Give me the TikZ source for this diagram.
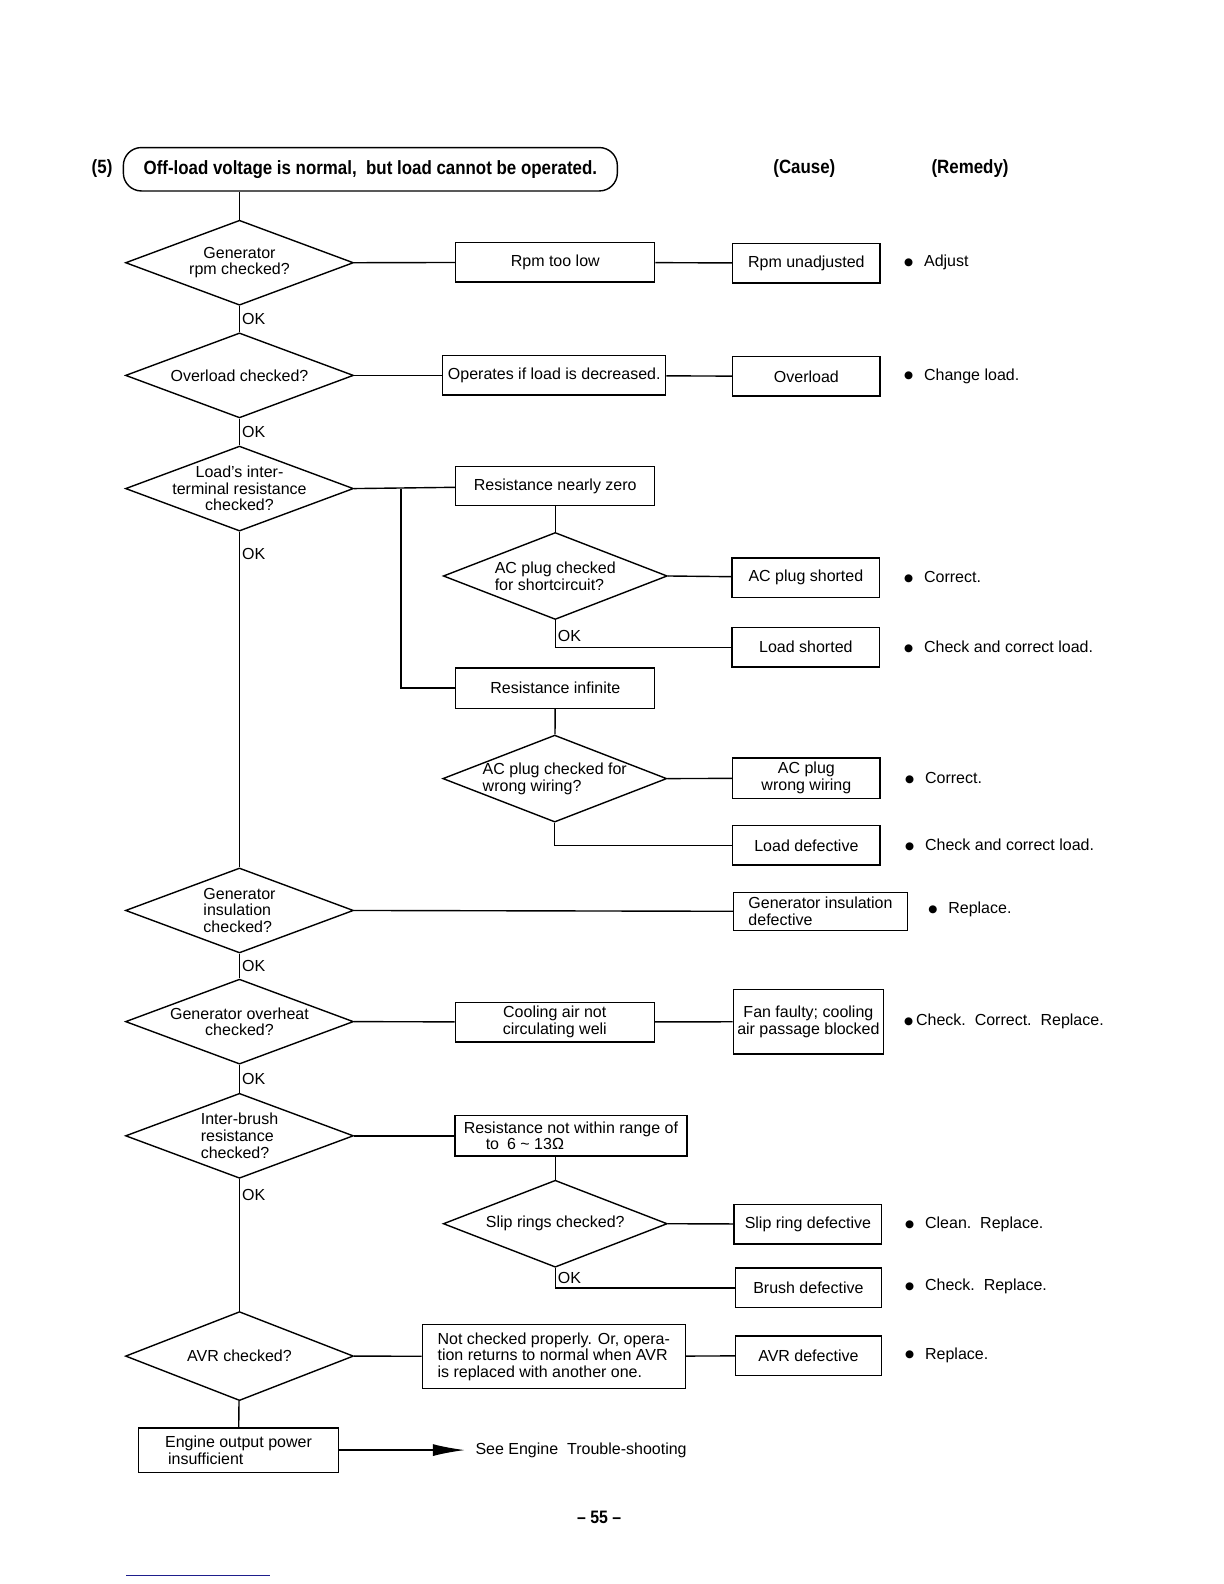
\documentclass[tikz,border=0pt]{standalone}
\usepackage{fontspec}
\setmainfont{Liberation Sans}
\newfontfamily\headfont{Liberation Sans}[FakeStretch=0.88]
\newfontfamily\symfont{DejaVu Sans}
\usetikzlibrary{shapes.geometric,arrows.meta,positioning}
\definecolor{scanblue}{RGB}{30,30,140}
\newcommand{\dotmark}{\raisebox{0.7pt}{\symfont\fontsize{5.2}{5.2}\selectfont ●}}
\newcommand{\rem}[1]{\makebox[10pt][l]{\dotmark}#1}

\begin{document}
\begin{tikzpicture}[x=0.50525pt, y=-0.50525pt, line width=0.7pt,
    every node/.style={font=\fontsize{8}{8.3}\selectfont},
    check/.style={diamond, draw, minimum width=114pt, minimum height=42.5pt, inner sep=0pt},
    subcheck/.style={check, minimum width=112pt, minimum height=43.5pt},
    qtext/.style={align=center, inner sep=0pt},
    qleft/.style={align=left, inner sep=0pt},
    test/.style={draw, rectangle, align=center, inner sep=2pt, minimum width=99.5pt, minimum height=19.7pt},
    cause/.style={draw, rectangle, align=center, inner sep=2pt, minimum width=73.8pt, minimum height=19.7pt},
    remedy/.style={anchor=west, inner sep=0pt},
    head/.style={font=\headfont\bfseries\fontsize{9.6}{11}\selectfont}]

  \useasboundingbox (0pt,0pt) rectangle (612pt,-792pt);

  % heading
  \node[head]                         (num)     at (101,167)   {(5)};
  \node[head, draw, rounded corners=9pt, minimum width=247pt, minimum height=21.7pt]
                                      (title)   at (366.5,167.5) {Off-load voltage is normal,\ \ but load cannot be operated.};
  \node[head]                         (hcause)  at (796,167)   {(Cause)};
  \node[head]                         (hremedy) at (960,167)   {(Remedy)};

  % checks along the main line
  \node[check, label={[qtext]center:{Generator\\rpm checked?}}]                   (genrpm)   at (237,260)    {};
  \node[check, label={[qtext]center:{Overload checked?}}]                         (overld)   at (237,371.5)  {};
  \node[check, label={[qtext]center:{Load's inter-\\terminal resistance\\checked?}}] (loadres) at (237,483.5) {};
  \node[check, label={[qleft]center:{Generator\\insulation\\checked?}}]           (insul)    at (237,901)    {};
  \node[check, label={[qtext]center:{Generator overheat\\checked?}}]              (ovheat)   at (237,1011)   {};
  \node[check, label={[qleft]center:{Inter-brush\\resistance\\checked?}}]         (brushres) at (237,1124)   {};
  \node[check, minimum height=44.5pt, label={[qtext]center:{AVR checked?}}]       (avrchk)   at (237,1342)   {};

  % checks on the branches
  \node[subcheck, label={[qleft]center:{AC plug checked\\for shortcircuit?}}]     (acshortchk) at (549.5,570) {};
  \node[subcheck, label={[qleft]center:{AC plug checked for\\wrong wiring?}}]     (acwirechk)  at (549,770.5) {};
  \node[subcheck, label={[qtext]center:{Slip rings checked?}}]                    (slipchk)    at (549.5,1211) {};

  % findings
  \node[test]                          (rpmlow)  at (549.5,259.5)  {Rpm too low};
  \node[test, minimum width=111.5pt]   (opdec)   at (548.5,371.5)  {Operates if load is decreased.};
  \node[test]                          (reszero) at (549.5,481)    {Resistance nearly zero};
  \node[test, minimum height=20.2pt]   (resinf)  at (549.5,681)    {Resistance infinite};
  \node[test]                          (cooling) at (549,1011.5)   {Cooling air not\\circulating weli};
  \node[test, minimum width=116pt, minimum height=20.2pt, align=left]
                                       (resrange) at (565,1124)    {Resistance not within range of\\\hspace*{11pt}to\enspace 6 \textasciitilde{} 13Ω};
  \node[test, minimum width=131.5pt, minimum height=32pt, align=left]
                                       (notchk)  at (548,1342.5)   {Not checked properly. Or, opera-\\tion returns to normal when AVR\\is replaced with another one.};
  \node[test, minimum width=100pt, minimum height=22.2pt, align=left]
                                       (engine)  at (236,1435)     {Engine output power\\\hspace*{1.5pt}insufficient};

  % causes
  \node[cause]                         (rpmunadj) at (798,260.5)   {Rpm unadjusted};
  \node[cause]                         (overload) at (798,372.5)   {Overload};
  \node[cause]                         (acshort)  at (797.5,571.5) {AC plug shorted};
  \node[cause]                         (ldshort)  at (797.5,640.5) {Load shorted};
  \node[cause, minimum height=20.2pt]  (acwire)   at (798,770)     {AC plug\\wrong wiring};
  \node[cause]                         (lddef)    at (798,836.5)   {Load defective};
  \node[cause, minimum width=87pt, minimum height=19.2pt, align=left]
                                       (insdef)   at (812,902)     {Generator insulation\\defective};
  \node[cause, minimum width=72.8pt, minimum height=32.3pt]
                                       (fan)      at (800,1011)    {Fan faulty; cooling\\air passage blocked};
  \node[cause]                         (slipdef)  at (799.5,1211.5) {Slip ring defective};
  \node[cause, minimum width=72.8pt]   (brushdef) at (800,1274.5)  {Brush defective};
  \node[cause, minimum width=72.8pt]   (avrdef)   at (800,1341.5)  {AVR defective};

  % remedies
  \node[remedy] (rem1)  at (894,260)  {\rem{Adjust}};
  \node[remedy] (rem2)  at (894,372)  {\rem{Change load.}};
  \node[remedy] (rem3)  at (894,571)  {\rem{Correct.}};
  \node[remedy] (rem4)  at (894,640)  {\rem{Check and correct load.}};
  \node[remedy] (rem5)  at (895,770)  {\rem{Correct.}};
  \node[remedy] (rem6)  at (895,836)  {\rem{Check and correct load.}};
  \node[remedy] (rem7)  at (918,900)  {\rem{Replace.}};
  \node[remedy] (rem8)  at (894,1011) {\makebox[6pt][l]{\dotmark}Check.\ \ Correct.\ \ Replace.};
  \node[remedy] (rem9)  at (895,1212) {\rem{Clean.\ \ Replace.}};
  \node[remedy] (rem10) at (895,1273) {\rem{Check.\ \ Replace.}};
  \node[remedy] (rem11) at (895,1341) {\rem{Replace.}};

  \node[anchor=west, inner sep=5pt] (seeeng) at (460,1435) {See Engine\ \ Trouble-shooting};
  \node[font=\headfont\bfseries\fontsize{9}{11}\selectfont] (page) at (593,1502) {\textendash\ 55 \textendash};

  \coordinate (split) at (397,483.5);

  % main line
  \draw (genrpm.north) -- (genrpm.north |- title.south);
  \path (genrpm)   edge node[right, inner sep=1pt] {OK} (overld)
        (overld)   edge node[right, inner sep=1pt] {OK} (loadres)
        (loadres)  edge node[right, inner sep=1pt, pos=0.065] {OK} (insul)
        (insul)    edge node[right, inner sep=1pt] {OK} (ovheat)
        (ovheat)   edge node[right, inner sep=1pt] {OK} (brushres)
        (brushres) edge node[right, inner sep=1pt, pos=0.12] {OK} (avrchk)
        (avrchk)   edge (engine);

  % branches
  \path (genrpm.east)   edge (rpmlow)   (rpmlow)  edge (rpmunadj)
        (overld.east)   edge (opdec)    (opdec)   edge (overload)
        (loadres.east)  edge (reszero)
        (reszero)       edge (acshortchk)
        (acshortchk.east) edge (acshort)
        (resinf)        edge (acwirechk)
        (acwirechk.east) edge (acwire)
        (insul.east)    edge (insdef)
        (ovheat.east)   edge (cooling)  (cooling) edge (fan)
        (brushres.east) edge (resrange)
        (slipchk.east)  edge (slipdef)
        (avrchk.east)   edge (notchk)   (notchk)  edge (avrdef);
  \draw (split) |- (resinf.west);
  \draw (acshortchk.south) |- node[pos=0.3, right, inner sep=1pt] {OK} (ldshort.west);
  \draw (acwirechk.south) |- (lddef.west);
  \draw (slipchk.north) -- (slipchk.north |- resrange.south);
  \draw (slipchk.south) |- node[pos=0.25, right, inner sep=1pt] {OK} (brushdef.west);
  \draw[-{Latex[length=16pt, width=6pt]}] (engine.east) -- (seeeng.west);

  \draw[scanblue, line width=0.6pt] (125,1559) -- (267,1559);
\end{tikzpicture}
\end{document}
